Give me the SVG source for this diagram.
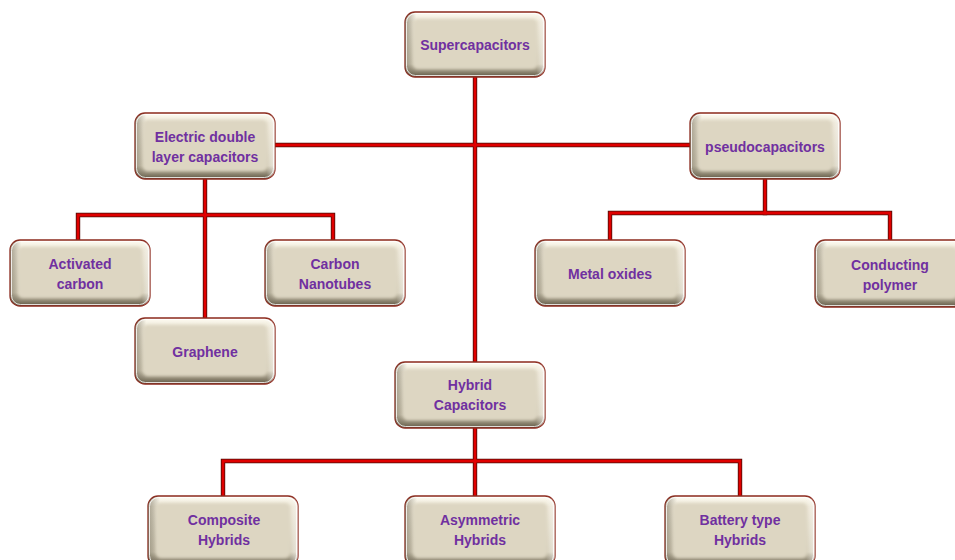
<svg xmlns="http://www.w3.org/2000/svg" width="955" height="560" viewBox="0 0 955 560">
<defs>
<linearGradient id="gV" x1="0" y1="0" x2="0" y2="1">
<stop offset="0" stop-color="#fffdf4"/>
<stop offset="0.15" stop-color="#ebe5d4"/>
<stop offset="0.8" stop-color="#d6cfba"/>
<stop offset="1" stop-color="#5e5642"/>
</linearGradient>
<linearGradient id="gH" x1="0" y1="0" x2="1" y2="0">
<stop offset="0" stop-color="#6d6755" stop-opacity="0.55"/>
<stop offset="0.08" stop-color="#6d6755" stop-opacity="0"/>
<stop offset="0.94" stop-color="#ffffff" stop-opacity="0"/>
<stop offset="1" stop-color="#ffffff" stop-opacity="0.5"/>
</linearGradient>
<filter id="soft" x="-10%" y="-10%" width="120%" height="120%">
<feGaussianBlur stdDeviation="1.6"/>
</filter>
</defs>
<style>
.outer{fill:url(#gV);stroke:#8c2a1e;stroke-width:1.3}
.shade{fill:url(#gH)}
.inner{fill:#ddd6c2;filter:url(#soft)}
.hl{fill:none;stroke:#ffffff;stroke-width:1;stroke-opacity:0.8}
.t{font-family:"Liberation Sans",Arial,sans-serif;font-weight:bold;font-size:14px;fill:#7030a0;text-anchor:middle}
.lk{fill:none;stroke:#4a0c06;stroke-width:4.4;stroke-linecap:square}
.lr{fill:none;stroke:#e00000;stroke-width:2.8;stroke-linecap:square}
</style>
<g id="connectors">
<g class="lk">
<path d="M475 77V362"/>
<path d="M275 145H690"/>
<path d="M205 179V318"/>
<path d="M78 240V215H333V240"/>
<path d="M765 179V213"/>
<path d="M610 240V213H890V240"/>
<path d="M475 428V496"/>
<path d="M223 496V461H740V496"/>
</g>
<g class="lr">
<path d="M475 77V362"/>
<path d="M275 145H690"/>
<path d="M205 179V318"/>
<path d="M78 240V215H333V240"/>
<path d="M765 179V213"/>
<path d="M610 240V213H890V240"/>
<path d="M475 428V496"/>
<path d="M223 496V461H740V496"/>
</g>
</g>
<g id="n-supercapacitors">
<rect class="outer" x="405" y="12" width="140" height="65" rx="10"/>
<rect class="shade" x="405" y="12" width="140" height="65" rx="10"/>
<rect class="inner" x="413" y="19" width="124" height="50" rx="5"/>
<rect class="hl" x="406.5" y="13.5" width="137" height="62" rx="9"/>
<text class="t" x="475" y="50">Supercapacitors</text>
</g>
<g id="n-edlc">
<rect class="outer" x="135" y="113" width="140" height="66" rx="10"/>
<rect class="shade" x="135" y="113" width="140" height="66" rx="10"/>
<rect class="inner" x="143" y="120" width="124" height="51" rx="5"/>
<rect class="hl" x="136.5" y="114.5" width="137" height="63" rx="9"/>
<text class="t" x="205" y="142">Electric double</text>
<text class="t" x="205" y="162">layer capacitors</text>
</g>
<g id="n-pseudo">
<rect class="outer" x="690" y="113" width="150" height="66" rx="10"/>
<rect class="shade" x="690" y="113" width="150" height="66" rx="10"/>
<rect class="inner" x="698" y="120" width="134" height="51" rx="5"/>
<rect class="hl" x="691.5" y="114.5" width="147" height="63" rx="9"/>
<text class="t" x="765" y="152">pseudocapacitors</text>
</g>
<g id="n-activated">
<rect class="outer" x="10" y="240" width="140" height="66" rx="10"/>
<rect class="shade" x="10" y="240" width="140" height="66" rx="10"/>
<rect class="inner" x="18" y="247" width="124" height="51" rx="5"/>
<rect class="hl" x="11.5" y="241.5" width="137" height="63" rx="9"/>
<text class="t" x="80" y="269">Activated</text>
<text class="t" x="80" y="289">carbon</text>
</g>
<g id="n-nanotubes">
<rect class="outer" x="265" y="240" width="140" height="66" rx="10"/>
<rect class="shade" x="265" y="240" width="140" height="66" rx="10"/>
<rect class="inner" x="273" y="247" width="124" height="51" rx="5"/>
<rect class="hl" x="266.5" y="241.5" width="137" height="63" rx="9"/>
<text class="t" x="335" y="269">Carbon</text>
<text class="t" x="335" y="289">Nanotubes</text>
</g>
<g id="n-graphene">
<rect class="outer" x="135" y="318" width="140" height="66" rx="10"/>
<rect class="shade" x="135" y="318" width="140" height="66" rx="10"/>
<rect class="inner" x="143" y="325" width="124" height="51" rx="5"/>
<rect class="hl" x="136.5" y="319.5" width="137" height="63" rx="9"/>
<text class="t" x="205" y="357">Graphene</text>
</g>
<g id="n-metal">
<rect class="outer" x="535" y="240" width="150" height="66" rx="10"/>
<rect class="shade" x="535" y="240" width="150" height="66" rx="10"/>
<rect class="inner" x="543" y="247" width="134" height="51" rx="5"/>
<rect class="hl" x="536.5" y="241.5" width="147" height="63" rx="9"/>
<text class="t" x="610" y="279">Metal oxides</text>
</g>
<g id="n-polymer">
<rect class="outer" x="815" y="240" width="150" height="67" rx="10"/>
<rect class="shade" x="815" y="240" width="150" height="67" rx="10"/>
<rect class="inner" x="823" y="247" width="134" height="52" rx="5"/>
<rect class="hl" x="816.5" y="241.5" width="147" height="64" rx="9"/>
<text class="t" x="890" y="270">Conducting</text>
<text class="t" x="890" y="290">polymer</text>
</g>
<g id="n-hybrid">
<rect class="outer" x="395" y="362" width="150" height="66" rx="10"/>
<rect class="shade" x="395" y="362" width="150" height="66" rx="10"/>
<rect class="inner" x="403" y="369" width="134" height="51" rx="5"/>
<rect class="hl" x="396.5" y="363.5" width="147" height="63" rx="9"/>
<text class="t" x="470" y="390">Hybrid</text>
<text class="t" x="470" y="410">Capacitors</text>
</g>
<g id="n-composite">
<rect class="outer" x="148" y="496" width="150" height="70" rx="10"/>
<rect class="shade" x="148" y="496" width="150" height="70" rx="10"/>
<rect class="inner" x="156" y="503" width="134" height="55" rx="5"/>
<rect class="hl" x="149.5" y="497.5" width="147" height="67" rx="9"/>
<text class="t" x="224" y="525">Composite</text>
<text class="t" x="224" y="545">Hybrids</text>
</g>
<g id="n-asymmetric">
<rect class="outer" x="405" y="496" width="150" height="70" rx="10"/>
<rect class="shade" x="405" y="496" width="150" height="70" rx="10"/>
<rect class="inner" x="413" y="503" width="134" height="55" rx="5"/>
<rect class="hl" x="406.5" y="497.5" width="147" height="67" rx="9"/>
<text class="t" x="480" y="525">Asymmetric</text>
<text class="t" x="480" y="545">Hybrids</text>
</g>
<g id="n-battery">
<rect class="outer" x="665" y="496" width="150" height="70" rx="10"/>
<rect class="shade" x="665" y="496" width="150" height="70" rx="10"/>
<rect class="inner" x="673" y="503" width="134" height="55" rx="5"/>
<rect class="hl" x="666.5" y="497.5" width="147" height="67" rx="9"/>
<text class="t" x="740" y="525">Battery type</text>
<text class="t" x="740" y="545">Hybrids</text>
</g>
</svg>
